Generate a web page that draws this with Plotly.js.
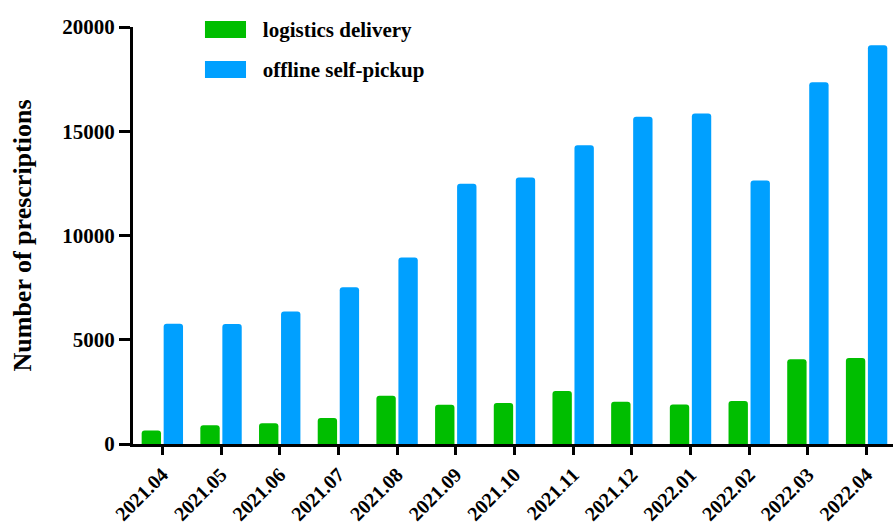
<!DOCTYPE html>
<html>
<head>
<meta charset="utf-8">
<script src="https://cdn.plot.ly/plotly-3.0.1.min.js"></script>
<style>html,body{margin:0;padding:0;background:#fff;}#chart{width:893px;height:527px;}</style>
</head>
<body>
<div id="chart"></div>
<script>
const months = ["2021.04","2021.05","2021.06","2021.07","2021.08","2021.09","2021.10","2021.11","2021.12","2022.01","2022.02","2022.03","2022.04"];
const logisticsDelivery = [650, 900, 1000, 1250, 2320, 1880, 1970, 2540, 2030, 1890, 2060, 4060, 4120];
const offlineSelfPickup = [5770, 5750, 6360, 7520, 8950, 12480, 12780, 14330, 15700, 15850, 12640, 17350, 19130];
const yTicks = [0, 5000, 10000, 15000, 20000];
const seriesColors = ["rgb(0,190,0)", "rgb(0,160,255)"];

const fontFamily = "Liberation Serif";

const traces = [
  {type: "bar", name: "logistics delivery", x: months, y: logisticsDelivery, legendgroup: "a",
   marker: {color: seriesColors[0]}, hoverinfo: "x+y"},
  {type: "bar", name: "offline self-pickup", x: months, y: offlineSelfPickup, legendgroup: "b",
   marker: {color: seriesColors[1]}, hoverinfo: "x+y"}
];

// wide legend swatches (decoration behind the native legend symbols)
const swatchShapes = [
  {type: "rect", xref: "paper", yref: "paper", x0: 0.0947, x1: 0.1487, y0: 0.9736, y1: 1.0144,
   fillcolor: seriesColors[0], line: {width: 0}, layer: "above"},
  {type: "rect", xref: "paper", yref: "paper", x0: 0.0947, x1: 0.1487, y0: 0.8777, y1: 0.9185,
   fillcolor: seriesColors[1], line: {width: 0}, layer: "above"}
];

const layout = {
  width: 893, height: 527,
  margin: {l: 133, r: 0, t: 27, b: 83, pad: 0},
  paper_bgcolor: "#fff", plot_bgcolor: "#fff",
  barmode: "group", bargap: 0.25, bargroupgap: 0.12, barcornerradius: 3,
  font: {family: fontFamily, color: "#000", weight: 700},
  xaxis: {
    type: "category", range: [-0.5, 12.45],
    showline: true, linewidth: 3, linecolor: "#000",
    ticks: "outside", ticklen: 8, tickwidth: 3, tickcolor: "#000",
    tickangle: -45, tickfont: {family: fontFamily, size: 20, weight: 700, color: "#000"},
    showgrid: false, zeroline: false, fixedrange: true
  },
  yaxis: {
    range: [0, 20000], tickvals: yTicks, ticktext: yTicks.map(String),
    showline: true, linewidth: 3, linecolor: "#000",
    ticks: "outside", ticklen: 11, tickwidth: 3, tickcolor: "#000",
    tickfont: {family: fontFamily, size: 21, weight: 700, color: "#000"},
    title: {text: "Number of prescriptions", font: {family: fontFamily, size: 26, weight: 700, color: "#000"}, standoff: 24},
    showgrid: false, zeroline: false, fixedrange: true
  },
  shapes: swatchShapes,
  legend: {
    x: 0.105, y: 1.045, xanchor: "left", yanchor: "top",
    font: {family: fontFamily, size: 21, weight: 700, color: "#000"},
    bgcolor: "rgba(0,0,0,0)", tracegroupgap: 10, traceorder: "grouped",
    itemwidth: 40
  },
  showlegend: true
};

Plotly.newPlot("chart", traces, layout, {displayModeBar: false, staticPlot: true});
</script>
</body>
</html>
